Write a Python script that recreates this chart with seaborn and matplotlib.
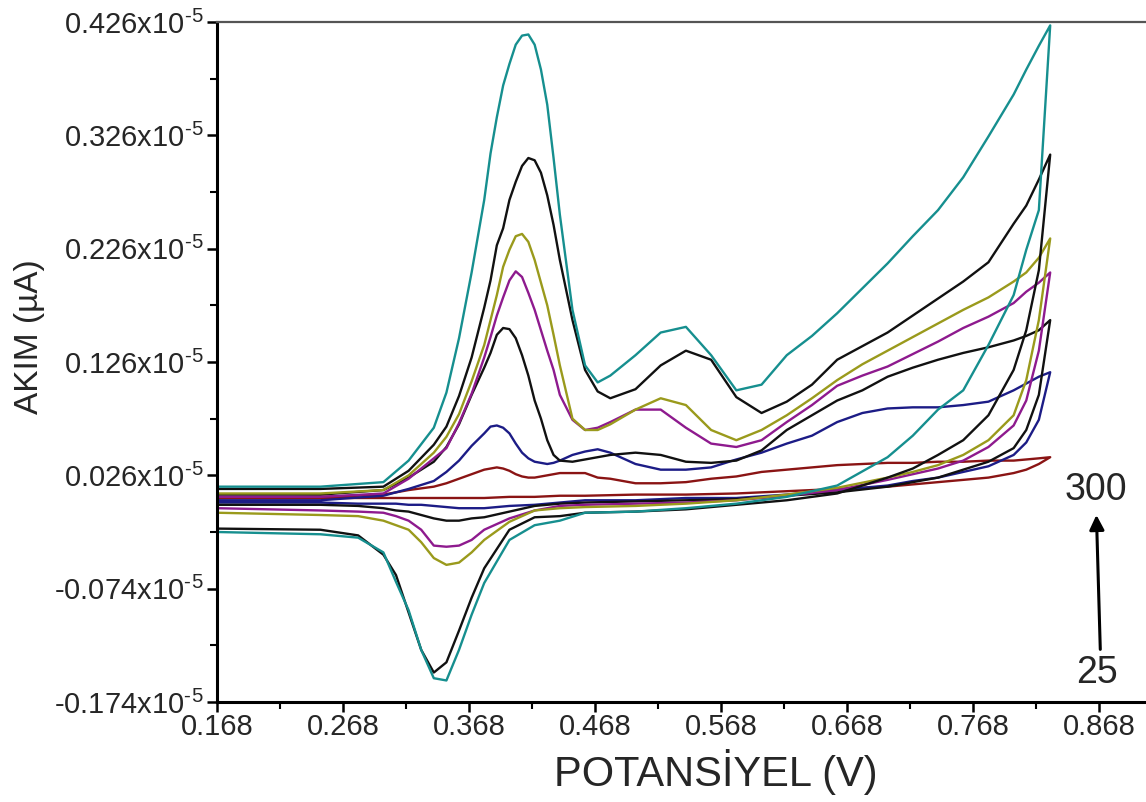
import numpy as np
import pandas as pd
import matplotlib
matplotlib.use("Agg")
import matplotlib.pyplot as plt
import seaborn as sns
from matplotlib.ticker import FixedLocator, FixedFormatter, MultipleLocator

# ---- data (current in units of 1e-5, potential in V) ----
E_fwd = [0.168, 0.25, 0.30, 0.32, 0.34, 0.35, 0.36, 0.37, 0.38, 0.385,
         0.39, 0.395, 0.40, 0.405, 0.41, 0.415, 0.42, 0.425, 0.43, 0.435,
         0.44, 0.45, 0.46, 0.47, 0.48, 0.50, 0.52, 0.54, 0.56, 0.58,
         0.60, 0.62, 0.64, 0.66, 0.68, 0.70, 0.72, 0.74, 0.76, 0.78,
         0.80, 0.81, 0.82, 0.829]
E_rev = [0.829, 0.82, 0.81, 0.80, 0.78, 0.76, 0.74, 0.72, 0.70, 0.66,
         0.62, 0.58, 0.54, 0.50, 0.46, 0.44, 0.42, 0.40, 0.38, 0.37,
         0.36, 0.35, 0.34, 0.33, 0.32, 0.31, 0.30, 0.28, 0.25, 0.168]

teal_fwd = [0.016, 0.016, 0.020, 0.039, 0.068, 0.099, 0.147, 0.205, 0.269, 0.310,
            0.342, 0.370, 0.389, 0.406, 0.414, 0.415, 0.406, 0.384, 0.353, 0.306,
            0.256, 0.172, 0.123, 0.108, 0.114, 0.132, 0.152, 0.157, 0.132, 0.101,
            0.106, 0.132, 0.149, 0.169, 0.191, 0.213, 0.237, 0.260, 0.289, 0.325,
            0.362, 0.384, 0.405, 0.423]
teal_rev = [0.423, 0.260, 0.225, 0.185, 0.141, 0.101, 0.084, 0.061, 0.042, 0.017,
            0.007, 0.001, -0.003, -0.006, -0.007, -0.014, -0.018, -0.031, -0.069, -0.097,
            -0.128, -0.155, -0.153, -0.128, -0.093, -0.068, -0.042, -0.029, -0.026, -0.024]

blackhi_fwd = [0.014, 0.014, 0.016, 0.030, 0.053, 0.069, 0.096, 0.130, 0.174, 0.198,
               0.229, 0.244, 0.269, 0.285, 0.299, 0.306, 0.304, 0.293, 0.273, 0.247,
               0.216, 0.163, 0.119, 0.100, 0.094, 0.102, 0.123, 0.136, 0.128, 0.095,
               0.081, 0.091, 0.106, 0.128, 0.140, 0.152, 0.167, 0.182, 0.197, 0.214,
               0.248, 0.264, 0.287, 0.309]
blackhi_rev = [0.309, 0.207, 0.154, 0.119, 0.079, 0.057, 0.044, 0.032, 0.024, 0.010,
               0.004, 0.000, -0.004, -0.006, -0.007, -0.010, -0.011, -0.022, -0.056, -0.082,
               -0.111, -0.139, -0.148, -0.128, -0.095, -0.062, -0.044, -0.027, -0.022, -0.021]

olive_fwd = [0.010, 0.010, 0.013, 0.026, 0.046, 0.060, 0.080, 0.109, 0.141, 0.163,
             0.185, 0.210, 0.225, 0.237, 0.239, 0.232, 0.216, 0.196, 0.176, 0.150,
             0.123, 0.076, 0.066, 0.066, 0.071, 0.084, 0.094, 0.088, 0.066, 0.057,
             0.066, 0.079, 0.094, 0.110, 0.124, 0.136, 0.148, 0.160, 0.172, 0.183,
             0.197, 0.205, 0.218, 0.235]
olive_rev = [0.235, 0.163, 0.110, 0.079, 0.057, 0.044, 0.035, 0.029, 0.024, 0.015,
             0.009, 0.004, 0.001, -0.001, -0.002, -0.003, -0.005, -0.015, -0.031, -0.042,
             -0.051, -0.053, -0.047, -0.033, -0.022, -0.018, -0.014, -0.010, -0.009, -0.007]

magenta_fwd = [0.007, 0.007, 0.010, 0.023, 0.041, 0.050, 0.072, 0.098, 0.130, 0.148,
               0.167, 0.183, 0.198, 0.206, 0.201, 0.187, 0.172, 0.154, 0.136, 0.119,
               0.097, 0.075, 0.066, 0.068, 0.073, 0.084, 0.084, 0.068, 0.054, 0.051,
               0.057, 0.073, 0.088, 0.105, 0.114, 0.122, 0.133, 0.144, 0.156, 0.166,
               0.178, 0.188, 0.196, 0.205]
magenta_rev = [0.205, 0.136, 0.092, 0.070, 0.051, 0.039, 0.032, 0.027, 0.022, 0.013,
               0.008, 0.004, 0.002, 0.001, 0.000, -0.001, -0.005, -0.012, -0.022, -0.031,
               -0.036, -0.037, -0.036, -0.022, -0.014, -0.010, -0.007, -0.006, -0.005, -0.003]

blacklo_fwd = [0.009, 0.009, 0.013, 0.024, 0.038, 0.051, 0.071, 0.097, 0.121, 0.134,
               0.150, 0.156, 0.155, 0.147, 0.132, 0.114, 0.092, 0.076, 0.057, 0.044,
               0.039, 0.038, 0.040, 0.042, 0.044, 0.046, 0.044, 0.038, 0.037, 0.039,
               0.048, 0.066, 0.079, 0.092, 0.101, 0.113, 0.121, 0.128, 0.134, 0.139,
               0.145, 0.149, 0.154, 0.163]
blacklo_rev = [0.163, 0.097, 0.066, 0.050, 0.038, 0.031, 0.024, 0.020, 0.016, 0.011,
               0.008, 0.005, 0.004, 0.003, 0.002, 0.001, -0.001, -0.006, -0.011, -0.012,
               -0.014, -0.014, -0.012, -0.009, -0.006, -0.005, -0.003, -0.001, 0.000, 0.000]

navy_fwd = [0.004, 0.004, 0.008, 0.014, 0.021, 0.029, 0.039, 0.052, 0.063, 0.069,
            0.070, 0.068, 0.063, 0.054, 0.046, 0.041, 0.038, 0.037, 0.036, 0.037,
            0.039, 0.044, 0.047, 0.049, 0.046, 0.036, 0.031, 0.031, 0.033, 0.040,
            0.046, 0.054, 0.061, 0.073, 0.081, 0.085, 0.086, 0.086, 0.088, 0.091,
            0.101, 0.107, 0.113, 0.117]
navy_rev = [0.117, 0.075, 0.055, 0.044, 0.034, 0.029, 0.024, 0.021, 0.017, 0.013,
            0.009, 0.006, 0.006, 0.004, 0.004, 0.002, 0.000, -0.001, -0.003, -0.003,
            -0.003, -0.002, -0.001, 0.000, 0.000, 0.001, 0.001, 0.001, 0.002, 0.002]

maroon_fwd = [0.006, 0.007, 0.009, 0.013, 0.016, 0.019, 0.023, 0.027, 0.031, 0.032,
              0.033, 0.032, 0.030, 0.027, 0.025, 0.024, 0.024, 0.025, 0.026, 0.027,
              0.028, 0.028, 0.028, 0.024, 0.023, 0.019, 0.019, 0.020, 0.023, 0.025,
              0.029, 0.031, 0.033, 0.035, 0.036, 0.037, 0.037, 0.038, 0.038, 0.039,
              0.039, 0.040, 0.041, 0.042]
maroon_rev = [0.042, 0.036, 0.031, 0.028, 0.024, 0.022, 0.020, 0.018, 0.016, 0.014,
              0.012, 0.010, 0.009, 0.009, 0.008, 0.008, 0.007, 0.007, 0.006, 0.006,
              0.006, 0.006, 0.006, 0.006, 0.006, 0.006, 0.006, 0.006, 0.006, 0.006]

curve_names = ["maroon", "navy", "blacklo", "magenta", "olive", "blackhi", "teal"]
curve_data = {
    "maroon": (maroon_fwd, maroon_rev),
    "navy": (navy_fwd, navy_rev),
    "blacklo": (blacklo_fwd, blacklo_rev),
    "magenta": (magenta_fwd, magenta_rev),
    "olive": (olive_fwd, olive_rev),
    "blackhi": (blackhi_fwd, blackhi_rev),
    "teal": (teal_fwd, teal_rev),
}
palette = {
    "maroon": "#8a1414",
    "navy": "#1c1c86",
    "blacklo": "#111111",
    "magenta": "#8e1a8e",
    "olive": "#9a9a1c",
    "blackhi": "#111111",
    "teal": "#168f8f",
}

y_ticks = [0.426, 0.326, 0.226, 0.126, 0.026, -0.074, -0.174]
y_labels = ["0.426", "0.326", "0.226", "0.126", "0.026", "-0.074", "-0.174"]
x_ticks = [0.168, 0.268, 0.368, 0.468, 0.568, 0.668, 0.768, 0.868]
x_labels = ["0.168", "0.268", "0.368", "0.468", "0.568", "0.668", "0.768", "0.868"]

rows = []
for name in curve_names:
    fwd, rev = curve_data[name]
    E = E_fwd + E_rev
    I = fwd + rev
    assert len(E) == len(I), name
    for k, (e, i) in enumerate(zip(E, I)):
        rows.append({"curve": name, "E": e, "I": i, "k": k})
df = pd.DataFrame(rows)

sns.set_theme(style="ticks")
plt.rcParams["font.family"] = ["Liberation Sans", "DejaVu Sans"]
plt.rcParams["mathtext.default"] = "regular"

fig = plt.figure(figsize=(11.46, 8.02), dpi=100)
ax = fig.add_axes([217 / 1146, 1 - 702 / 802, 1 - 217 / 1146, (702 - 22) / 802])

sns.lineplot(data=df, x="E", y="I", hue="curve", units="curve", estimator=None, sort=False,
             palette=palette, legend=False, linewidth=1.7, ax=ax)

ax.set_xlim(0.168, 0.905)
ax.set_ylim(-0.174, 0.426)

ax.yaxis.set_major_locator(FixedLocator(y_ticks))
ax.yaxis.set_major_formatter(FixedFormatter([l + "x10$^{\u2010}$$^{5}$" for l in y_labels]))
ax.xaxis.set_major_locator(FixedLocator(x_ticks))
ax.xaxis.set_major_formatter(FixedFormatter(x_labels))
ax.set_xticks([t + 0.05 for t in x_ticks[:-1]], minor=True)
ax.set_yticks([t - 0.05 for t in y_ticks[:-1]], minor=True)

ax.tick_params(axis="y", which="major", labelsize=21, length=7, width=1.8, pad=2, color="black")
ax.tick_params(axis="x", which="major", labelsize=21, length=7, width=1.8, pad=1, color="black")
ax.tick_params(which="minor", length=5, width=1.5, color="black")

for s in ["left", "bottom"]:
    ax.spines[s].set_linewidth(2.2)
    ax.spines[s].set_color("black")
ax.spines["top"].set_linewidth(1.6)
ax.spines["top"].set_color("#555555")
ax.spines["right"].set_visible(False)
ax.set_xlabel("")
ax.set_ylabel("")

fig.text(30 / 1146, 1 - 337 / 802, "AKIM (µA)", rotation=90, ha="center", va="center", fontsize=24)
fig.text(716 / 1146, 1 - 772 / 802, "POTANSİYEL (V)", ha="center", va="center", fontsize=30)

ax.annotate("", xy=(0.8656, -0.0065), xytext=(0.8688, -0.130),
            arrowprops=dict(arrowstyle="-|>", color="black", lw=2.2, mutation_scale=22))
ax.text(0.865, 0.013, "300", ha="center", va="center", fontsize=27)
ax.text(0.866, -0.148, "25", ha="center", va="center", fontsize=27)

fig.savefig("out.png", dpi=100)
